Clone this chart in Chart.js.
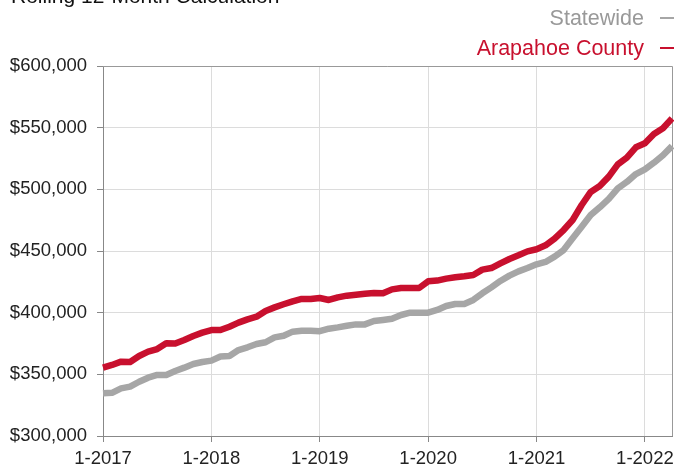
<!DOCTYPE html>
<html>
<head>
<meta charset="utf-8">
<script src="https://cdn.jsdelivr.net/npm/chart.js@4"></script>
<style>
  html, body { margin: 0; padding: 0; background: #fff; overflow: hidden; }
  #wrap { width: 674px; height: 466px; position: relative; }
</style>
</head>
<body>
<div id="wrap"><canvas id="myChart" width="674" height="466"></canvas></div>
<script>
// months 1-2017 .. 4-2022
const years = [2017, 2018, 2019, 2020, 2021, 2022];
const months = [];
years.forEach(y => { for (let m = 1; m <= 12; m++) months.push(m + '-' + y); });
months.length = 64;

const seriesNames = ['Statewide', 'Arapahoe County'];

const statewide = [
  334600, 335000, 338600, 340000, 344000, 347300, 349500, 349500, 352700, 355400, 358400, 360000,
  361100, 364400, 364900, 369700, 371900, 374600, 376000, 380000, 381300, 384600, 385400, 385400,
  385000, 387000, 388100, 389400, 390500, 390500, 393200, 394100, 395100, 398100, 400000, 400000,
  400000, 402200, 405400, 407000, 407000, 410300, 415700, 420500, 425700, 430000, 433500, 436200,
  439200, 441100, 445400, 450800, 460300, 469700, 479200, 485400, 492200, 500800, 506000, 512400,
  516200, 521600, 527600, 535100
];

const arapahoe = [
  355400, 357600, 360300, 360000, 364900, 368400, 370500, 375200, 375000, 377900, 381100, 383800,
  385900, 385900, 388600, 391900, 394600, 396700, 401400, 404300, 406800, 409200, 411100, 411000,
  411900, 410300, 412400, 413800, 414600, 415400, 416000, 415700, 418900, 420000, 420000, 420000,
  425400, 426000, 427600, 428700, 429500, 430500, 434900, 436200, 440000, 443500, 446500, 449700,
  451400, 454600, 460000, 467000, 475100, 487300, 497900, 502700, 510300, 520300, 525700, 534100,
  537300, 544900, 549500, 557500
];

const yTicks = [300000, 350000, 400000, 450000, 500000, 550000, 600000];

const RED = '#c8102e';
const GREY = '#a6a6a6';
const FONT = '"Liberation Sans", Arial, sans-serif';

// title + legend + box border
const extras = {
  id: 'extras',
  beforeDatasetsDraw(chart) {
    const ctx = chart.ctx;
    const a = chart.chartArea;
    ctx.save();
    ctx.strokeStyle = '#999';
    ctx.lineWidth = 1;
    ctx.beginPath();
    ctx.moveTo(a.left, a.top + 0.5);
    ctx.lineTo(a.right + 0.5, a.top + 0.5);
    ctx.lineTo(a.right + 0.5, a.bottom);
    ctx.stroke();
    ctx.restore();
  },
  afterDraw(chart) {
    const ctx = chart.ctx;
    ctx.save();
    ctx.textBaseline = 'alphabetic';
    ctx.font = '21px ' + FONT;
    ctx.fillStyle = '#111';
    ctx.textAlign = 'left';
    ctx.fillText('Rolling 12-Month Calculation', 11, 3);

    ctx.font = '21.5px ' + FONT;
    const rows = [
      { name: seriesNames[0], color: '#999', line: GREY, y: 25 },
      { name: seriesNames[1], color: RED, line: RED, y: 55 }
    ];
    rows.forEach(r => {
      ctx.fillStyle = r.color;
      ctx.textAlign = 'right';
      ctx.fillText(r.name, 644, r.y);
      ctx.strokeStyle = r.line;
      ctx.lineWidth = 2;
      ctx.beginPath();
      ctx.moveTo(660, r.y - 7);
      ctx.lineTo(674, r.y - 7);
      ctx.stroke();
    });
    ctx.restore();
  }
};

new Chart(document.getElementById('myChart'), {
  type: 'line',
  data: {
    labels: months,
    datasets: [
      {
        label: seriesNames[0],
        data: statewide,
        borderColor: GREY,
        borderWidth: 6.5,
        pointRadius: 0,
        tension: 0,
        borderJoinStyle: 'round'
      },
      {
        label: seriesNames[1],
        data: arapahoe,
        borderColor: RED,
        borderWidth: 6.5,
        pointRadius: 0,
        tension: 0,
        borderJoinStyle: 'round'
      }
    ]
  },
  options: {
    responsive: false,
    animation: false,
    layout: { padding: { top: 66, right: 2, left: 0, bottom: 0 } },
    plugins: {
      legend: { display: false },
      title: { display: false },
      tooltip: { enabled: false }
    },
    scales: {
      x: {
        type: 'category',
        offset: false,
        afterBuildTicks: axis => {
          axis.ticks = axis.ticks.filter(t => t.value % 12 === 0);
        },
        afterFit: s => {
          s.height = 30;
          s.paddingLeft = 0;
          s.paddingRight = 0;
        },
        ticks: {
          autoSkip: false,
          maxRotation: 0,
          padding: 6,
          color: '#222',
          font: { size: 18.5, family: FONT },
          callback: function (v) { return this.getLabelForValue(v); }
        },
        grid: { color: '#dcdcdc', tickColor: '#888', tickLength: 6, lineWidth: 1 },
        border: { color: '#888', width: 1 }
      },
      y: {
        min: 300000,
        max: 600000,
        afterBuildTicks: axis => {
          axis.ticks = yTicks.map(v => ({ value: v }));
        },
        afterFit: s => {
          s.width = 103;
          s.paddingTop = 0;
          s.paddingBottom = 0;
        },
        ticks: {
          padding: 10,
          color: '#222',
          font: { size: 18.5, family: FONT },
          callback: v => '$' + v.toLocaleString('en-US')
        },
        grid: { color: '#dcdcdc', tickColor: '#888', tickLength: 6, lineWidth: 1 },
        border: { color: '#888', width: 1 }
      }
    }
  },
  plugins: [extras]
});
</script>
</body>
</html>
